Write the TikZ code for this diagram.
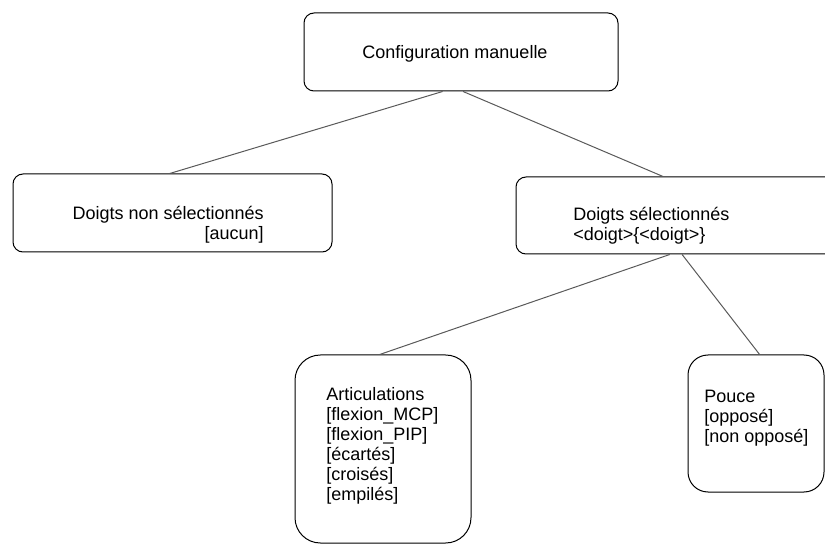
\documentclass[tikz,border=0pt]{standalone}
\usepackage{fontspec}
\setmainfont{Liberation Sans}
\begin{document}
\begin{tikzpicture}[x=0.75pt,y=-0.75pt,
  box/.style={draw,line width=0.75pt,rounded corners=#1,inner sep=0pt},
  box/.default=7.5pt,
  txt/.style={font=\fontsize{13.5}{15}\selectfont,inner sep=0pt},
  link/.style={draw=black!65,line width=0.75pt}]
\useasboundingbox (0,0) rectangle (825,545);
\node[box,minimum width=235.5pt,minimum height=58.5pt] (config) at (461,52) {};
\node[box,minimum width=239.25pt,minimum height=58.5pt] (nonsel) at (172.5,213) {};
\node[box,minimum width=243pt,minimum height=57.75pt] (sel) at (678,215.5) {};
\node[box=19pt,minimum width=132pt,minimum height=141pt] (artic) at (383,449) {};
\node[box=15pt,minimum width=102pt,minimum height=102.75pt] (pouce) at (756,423.5) {};
\node[txt] (configtxt) at (455,54) {Configuration manuelle};
\node[txt,align=right,anchor=east] (nonseltxt) at (264,225) {Doigts non sélectionnés\\{[}aucun{]}};
\node[txt,align=left,anchor=west] (seltxt) at (573,226) {Doigts sélectionnés\\<doigt>\{<doigt>\}};
\node[txt,align=left,anchor=west] (artictxt) at (326,446) {Articulations\\{[}flexion\_MCP{]}\\{[}flexion\_PIP{]}\\{[}écartés{]}\\{[}croisés{]}\\{[}empilés{]}};
\node[txt,align=left,anchor=west] (poucetxt) at (704,418) {Pouce\\{[}opposé{]}\\{[}non opposé{]}};
\draw[link] (config.-115) -- (nonsel.94);
\draw[link] (config.-87) -- (sel.111);
\draw[link] (sel.-102) -- (artic.92);
\draw[link] (sel.-84) -- (pouce.87);
\end{tikzpicture}
\end{document}
